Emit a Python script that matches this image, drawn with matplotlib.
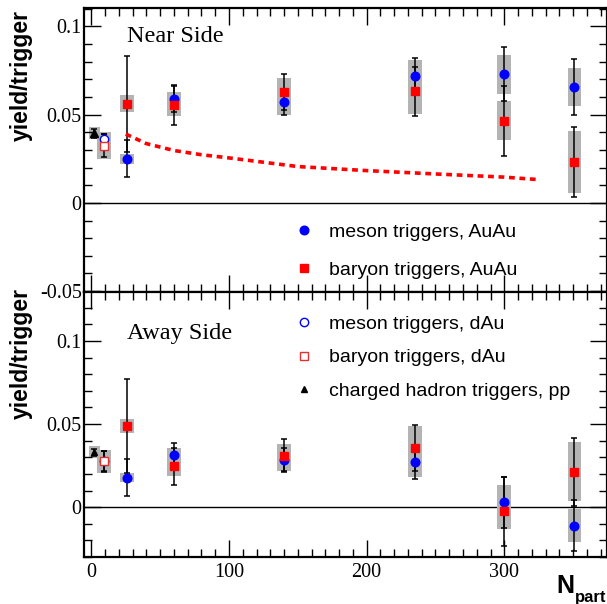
import matplotlib
matplotlib.use('Agg')
import matplotlib.pyplot as plt
from matplotlib.ticker import FixedLocator, MultipleLocator

plt.rcParams['font.family'] = 'Liberation Serif'
plt.rcParams['axes.unicode_minus'] = False

# N_part values
npart_auau = [26, 60, 140, 235, 300, 351]
npart_dau = [9]
npart_pp = [2]

# Near side, AuAu
near_meson = [0.0250, 0.0589, 0.0570, 0.0718, 0.0729, 0.0657]
near_meson_stat = [0.0105, 0.0076, 0.0070, 0.0102, 0.0152, 0.0156]
near_meson_sys = [0.0028, 0.0042, 0.0070, 0.0090, 0.0110, 0.0105]
near_baryon = [0.0563, 0.0555, 0.0629, 0.0632, 0.0466, 0.0231]
near_baryon_stat = [0.0272, 0.0114, 0.0100, 0.0138, 0.0199, 0.0199]
near_baryon_sys = [0.0047, 0.0061, 0.0080, 0.0130, 0.0110, 0.0175]

# Near side, dAu and pp
near_meson_dau = [0.0362]
near_meson_dau_stat = [0.0028]
near_meson_dau_sys = [0.0040]
near_baryon_dau = [0.0324]
near_baryon_dau_stat = [0.0066]
near_baryon_dau_sys = [0.0074]
near_pp = [0.0395]
near_pp_stat = [0.0025]
near_pp_sys = [0.0035]

# Near side dotted curve
curve_npart = [25, 40, 60, 80, 100, 150, 200, 250, 300, 323]
curve_yield = [0.0390, 0.0336, 0.0297, 0.0273, 0.0255, 0.0206, 0.0183, 0.0164, 0.0146, 0.0133]

# Away side, AuAu
away_meson = [0.0178, 0.0315, 0.0285, 0.0269, 0.0030, -0.0111]
away_meson_stat = [0.0110, 0.0070, 0.0070, 0.0100, 0.0154, 0.0152]
away_meson_sys = [0.0027, 0.0040, 0.0065, 0.0085, 0.0105, 0.0098]
away_baryon = [0.0488, 0.0245, 0.0309, 0.0355, -0.0026, 0.0214]
away_baryon_stat = [0.0283, 0.0110, 0.0100, 0.0140, 0.0207, 0.0205]
away_baryon_sys = [0.0044, 0.0055, 0.0070, 0.0135, 0.0105, 0.0176]

# Away side, dAu and pp
away_meson_dau = [0.0278]
away_meson_dau_stat = [0.0062]
away_meson_dau_sys = [0.0068]
away_baryon_dau = [0.0275]
away_baryon_dau_stat = [0.0062]
away_baryon_dau_sys = [0.0068]
away_pp = [0.0330]
away_pp_stat = [0.0020]
away_pp_sys = [0.0035]

GRAY = '#b4b4b4'


def sys_box(ax, x, y, s, half=5):
    bottoms = [v - e for v, e in zip(y, s)]
    heights = [2 * e for e in s]
    ax.bar(x, heights, bottom=bottoms, width=2 * half, color=GRAY, lw=0, zorder=1)


def points(ax, x, y, stat, sys, fmt, color, face, ms, label, half=5):
    sys_box(ax, x, y, sys, half)
    ax.errorbar(x, y, yerr=stat, fmt='none', ecolor='k', elinewidth=1.1,
                capsize=2.5, capthick=1.1, zorder=2)
    line, = ax.plot(x, y, fmt, color=color, mfc=face, mec=color, ms=ms,
                    mew=1.0, ls='none', label=label, zorder=4)
    return line


def style_axis(ax, ylim, yticks, ylabels):
    ax.set_xlim(-5, 375)
    ax.set_ylim(*ylim)
    ax.axhline(0, color='k', lw=1.0, zorder=0)
    ax.yaxis.set_major_locator(FixedLocator(yticks))
    ax.set_yticklabels(ylabels)
    ax.yaxis.set_minor_locator(MultipleLocator(0.01))
    ax.xaxis.set_major_locator(MultipleLocator(100))
    ax.xaxis.set_minor_locator(MultipleLocator(10))
    ax.tick_params(which='both', direction='in', top=True, right=True,
                   labelsize=14.5, width=1.0, color='k')
    ax.tick_params(which='major', length=12)
    ax.tick_params(which='minor', length=6)
    ax.tick_params(axis='y', pad=2)
    ax.tick_params(axis='x', pad=4)
    for sp in ax.spines.values():
        sp.set_linewidth(1.6)


fig = plt.figure(figsize=(6.07, 6.04), dpi=100)
ax1 = fig.add_axes([0.1392, 0.5166, 0.8616, 0.4702])
ax2 = fig.add_axes([0.1392, 0.0773, 0.8616, 0.4393])

# ---- Near side
ax1.plot(curve_npart, curve_yield, color='red', lw=2.6, ls=(0, (1.6, 1.3)), zorder=3)
h1 = points(ax1, npart_auau, near_meson, near_meson_stat, near_meson_sys, 'o', 'blue', 'blue', 6.2, 'meson triggers, AuAu')
h2 = points(ax1, npart_auau, near_baryon, near_baryon_stat, near_baryon_sys, 's', 'red', 'red', 6.0, 'baryon triggers, AuAu')
points(ax1, npart_dau, near_meson_dau, near_meson_dau_stat, near_meson_dau_sys, 'o', 'blue', 'white', 6.0, None)
points(ax1, npart_dau, near_baryon_dau, near_baryon_dau_stat, near_baryon_dau_sys, 's', '#e03030', 'white', 6.0, None)
points(ax1, npart_pp, near_pp, near_pp_stat, near_pp_sys, '^', 'black', 'black', 5.5, None, half=4)
style_axis(ax1, (-0.0505, 0.1105), [-0.05, 0, 0.05, 0.1], ['-0.05', '0', '0.05', '0.1'])
ax1.tick_params(labelbottom=False)
ax1.text(0.081, 0.90, 'Near Side', transform=ax1.transAxes, fontsize=17.5, va='center')
ax1.legend(handles=[h1, h2], loc='upper left', bbox_to_anchor=(0.393, 0.27), frameon=False,
           prop={'family': 'Liberation Sans', 'size': 14}, handlelength=0.6,
           handletextpad=1.0, labelspacing=1.05, borderaxespad=0)

# ---- Away side
points(ax2, npart_auau, away_meson, away_meson_stat, away_meson_sys, 'o', 'blue', 'blue', 6.2, None)
points(ax2, npart_auau, away_baryon, away_baryon_stat, away_baryon_sys, 's', 'red', 'red', 6.0, None)
h3 = points(ax2, npart_dau, away_meson_dau, away_meson_dau_stat, away_meson_dau_sys, 'o', 'blue', 'white', 6.0, 'meson triggers, dAu')
h4 = points(ax2, npart_dau, away_baryon_dau, away_baryon_dau_stat, away_baryon_dau_sys, 's', '#e03030', 'white', 6.0, 'baryon triggers, dAu')
h5 = points(ax2, npart_pp, away_pp, away_pp_stat, away_pp_sys, '^', 'black', 'black', 5.0, 'charged hadron triggers, pp', half=4)
style_axis(ax2, (-0.0302, 0.1295), [0, 0.05, 0.1], ['0', '0.05', '0.1'])
ax2.text(0.081, 0.845, 'Away Side', transform=ax2.transAxes, fontsize=17.5, va='center')
ax2.legend(handles=[h3, h4, h5], loc='upper left', bbox_to_anchor=(0.393, 0.94), frameon=False,
           prop={'family': 'Liberation Sans', 'size': 14}, handlelength=0.6,
           handletextpad=1.0, labelspacing=0.8, borderaxespad=0)

# axis titles
fig.text(21 / 607, 1 - 10 / 604, 'yield/trigger', rotation=90, ha='center', va='top',
         family='Liberation Sans', weight='bold', fontsize=16.5)
fig.text(21 / 607, 1 - 288 / 604, 'yield/trigger', rotation=90, ha='center', va='top',
         family='Liberation Sans', weight='bold', fontsize=16.5)
fig.text(556 / 607, 1 - 593 / 604, 'N', ha='left', va='baseline',
         family='Liberation Sans', weight='bold', fontsize=18)
fig.text(575 / 607, 1 - 602 / 604, 'part', ha='left', va='baseline',
         family='Liberation Sans', weight='bold', fontsize=12)

fig.savefig('out.png', dpi=100)
